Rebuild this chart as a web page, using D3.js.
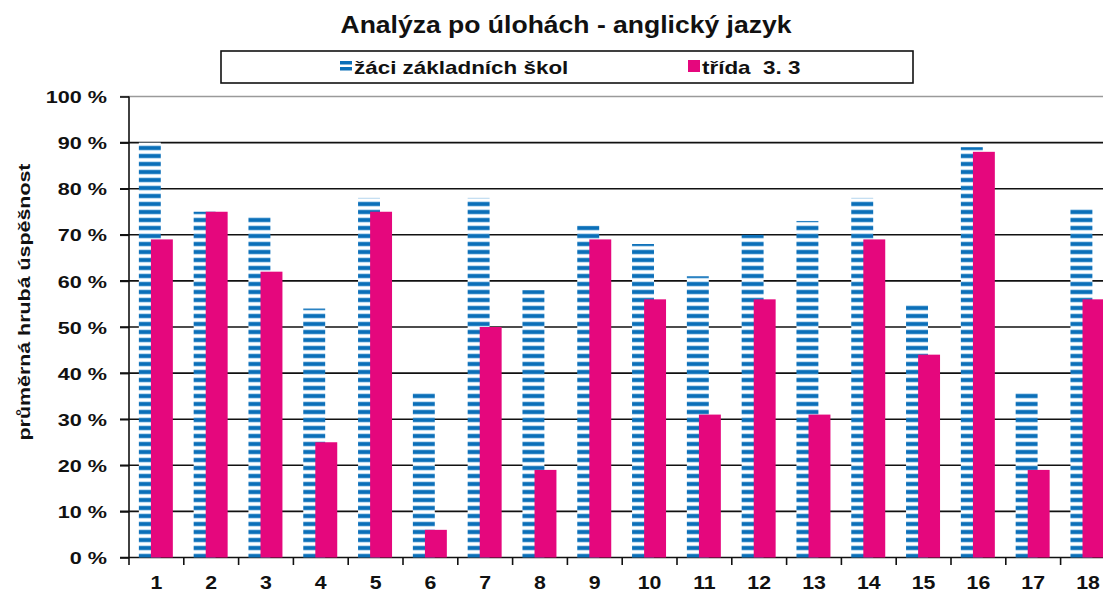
<!DOCTYPE html>
<html>
<head>
<meta charset="utf-8">
<script src="https://cdn.jsdelivr.net/npm/d3@7"></script>
<style>
  body { margin: 0; background: #fff; }
  text { font-family: "Liberation Sans", Arial, sans-serif; font-weight: bold; fill: #111; }
</style>
</head>
<body>
<svg id="chart"></svg>
<script>
// data
var tasks = ["1", "2", "3", "4", "5", "6", "7", "8", "9", "10", "11", "12", "13", "14", "15", "16", "17", "18"];
var schoolValues = [90, 75, 74, 54, 78, 36, 78, 58, 72, 68, 61, 70, 73, 78, 55, 89, 36, 76];
var classValues = [69, 75, 62, 25, 75, 6, 50, 19, 69, 56, 31, 56, 31, 69, 44, 88, 19, 56];
var yTicks = [0, 10, 20, 30, 40, 50, 60, 70, 80, 90, 100];
var seriesNames = ["žáci základních škol", "třída  3. 3"];

var title = "Analýza po úlohách - anglický jazyk";
var yTitle = "průměrná hrubá úspěšnost";

var W = 1103, H = 593;
var blue = "#0b6fb8", pink = "#e5077d";

var svg = d3.select("#chart").attr("width", W).attr("height", H);

// horizontal stretch of the text, the source fonts are wider than Arial
function stretch(sel, factor) {
    sel.each(function() {
        var w = this.getComputedTextLength();
        d3.select(this).attr("textLength", w * factor).attr("lengthAdjust", "spacingAndGlyphs");
    });
}

// striped pattern for the schools series
var defs = svg.append("defs");
var pat = defs.append("pattern")
    .attr("id", "stripes")
    .attr("patternUnits", "userSpaceOnUse")
    .attr("width", 8).attr("height", 8);
pat.append("rect").attr("width", 8).attr("height", 8).attr("fill", "#fff");
pat.append("rect").attr("y", 1.5).attr("width", 8).attr("height", 5).attr("fill", "#8cc0e6");
pat.append("rect").attr("y", 2.25).attr("width", 8).attr("height", 3.5).attr("fill", blue);

var legendPat = defs.append("pattern")
    .attr("id", "stripesLegend")
    .attr("patternUnits", "userSpaceOnUse")
    .attr("width", 6).attr("height", 6);
legendPat.append("rect").attr("width", 6).attr("height", 6).attr("fill", "#fff");
legendPat.append("rect").attr("y", 1).attr("width", 6).attr("height", 3.5).attr("fill", blue);

// scales
var x = d3.scaleBand()
    .domain(tasks)
    .range([129, 129 + 54.8 * tasks.length])
    .padding(0);
var y = d3.scaleLinear()
    .domain([0, 100])
    .range([557.5, 96.5]);

// gridlines
svg.append("g")
    .selectAll("line")
    .data(yTicks)
    .enter()
    .append("line")
    .attr("x1", 120)
    .attr("x2", W)
    .attr("y1", d => y(d))
    .attr("y2", d => y(d))
    .attr("stroke", d => d == 100 ? "#9a9a9a" : "#111")
    .attr("stroke-width", 1.6);

// bars
var bw = x.bandwidth();
svg.append("g")
    .selectAll("rect")
    .data(schoolValues)
    .enter()
    .append("rect")
    .attr("x", (d, i) => x(tasks[i]) + bw * 0.18)
    .attr("width", bw * 0.40)
    .attr("y", d => y(d))
    .attr("height", d => y(0) - y(d))
    .attr("fill", "url(#stripes)");

svg.append("g")
    .selectAll("rect")
    .data(classValues)
    .enter()
    .append("rect")
    .attr("x", (d, i) => x(tasks[i]) + bw * 0.40)
    .attr("width", bw * 0.40)
    .attr("y", d => y(d))
    .attr("height", d => y(0) - y(d))
    .attr("fill", pink);

// y axis
var yAxis = svg.append("g")
    .attr("transform", "translate(129,0)")
    .call(d3.axisLeft(y).tickValues(yTicks).tickSize(9).tickFormat(d => d + " %"));
yAxis.select(".domain").remove();
yAxis.selectAll("line").attr("stroke", "#111").attr("stroke-width", 1.6);
yAxis.selectAll("text")
    .attr("x", -22)
    .attr("dy", "0.36em")
    .style("font-size", "17px")
    .style("font-family", "'Liberation Sans', Arial, sans-serif")
    .style("font-weight", "bold")
    .attr("fill", "#111");
stretch(yAxis.selectAll("text"), 1.27);

svg.append("line")
    .attr("x1", 129).attr("x2", 129)
    .attr("y1", y(100)).attr("y2", 565)
    .attr("stroke", "#111").attr("stroke-width", 1.6);

// x axis, ticks between categories
var xAxis = svg.append("g")
    .attr("transform", "translate(0," + y(0) + ")");
xAxis.selectAll("line")
    .data(tasks)
    .enter()
    .append("line")
    .attr("x1", d => x(d) + bw)
    .attr("x2", d => x(d) + bw)
    .attr("y1", 0).attr("y2", 7.5)
    .attr("stroke", "#111").attr("stroke-width", 1.6);
xAxis.selectAll("text")
    .data(tasks)
    .enter()
    .append("text")
    .attr("x", d => x(d) + bw / 2)
    .attr("y", 31)
    .attr("text-anchor", "middle")
    .style("font-size", "18.5px")
    .text(d => d);
stretch(xAxis.selectAll("text"), 1.15);

// title
var t = svg.append("text")
    .attr("x", 566)
    .attr("y", 33)
    .attr("text-anchor", "middle")
    .style("font-size", "23px")
    .text(title);
stretch(t, 451 / t.node().getComputedTextLength());

// legend
svg.append("rect")
    .attr("x", 221).attr("y", 51)
    .attr("width", 692).attr("height", 32)
    .attr("fill", "#fff")
    .attr("stroke", "#111")
    .attr("stroke-width", 1.6);

var legendX = [340, 688];
var legendFill = ["url(#stripesLegend)", pink];
seriesNames.forEach(function(name, i) {
    svg.append("rect")
        .attr("x", legendX[i]).attr("y", 60)
        .attr("width", 12).attr("height", 12)
        .attr("fill", legendFill[i]);
    var lt = svg.append("text")
        .attr("x", legendX[i] + 14)
        .attr("y", 74)
        .style("font-size", "19px")
        .style("white-space", "pre")
        .text(name);
    stretch(lt, 1.18);
});

// y axis title
var yt = svg.append("text")
    .attr("transform", "translate(24,302) rotate(-90)")
    .attr("text-anchor", "middle")
    .attr("dominant-baseline", "central")
    .style("font-size", "16.5px")
    .text(yTitle);
stretch(yt, 277 / yt.node().getComputedTextLength());
</script>
</body>
</html>
